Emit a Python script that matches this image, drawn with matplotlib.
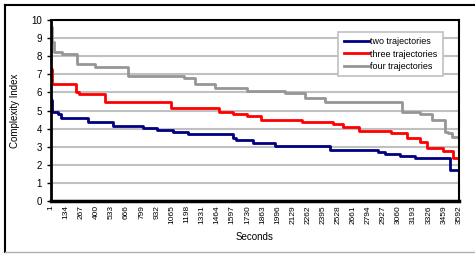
import numpy as np
import matplotlib.pyplot as plt
from matplotlib.lines import Line2D

plt.rcParams['font.family'] = ['Liberation Sans', 'DejaVu Sans']

# --- data (step changes: start second, index value) ---
t_two = [1, 10, 65, 89, 329, 549, 813, 931, 1078, 1210, 1600, 1629, 1776, 1973,
         2457, 2882, 2941, 3073, 3205, 3513, 3592]
v_two = [5.58, 4.93, 4.81, 4.57, 4.35, 4.17, 4.03, 3.92, 3.80, 3.70, 3.50, 3.37, 3.19, 3.02,
         2.82, 2.69, 2.60, 2.49, 2.36, 1.71, 1.71]

t_three = [1, 10, 218, 250, 476, 1057, 1482, 1600, 1724, 1847, 2208, 2486, 2574, 2715,
           2994, 3132, 3249, 3308, 3449, 3537, 3592]
v_three = [7.30, 6.46, 6.00, 5.91, 5.45, 5.12, 4.93, 4.81, 4.71, 4.48, 4.35, 4.25, 4.10, 3.88,
           3.77, 3.46, 3.28, 2.91, 2.78, 2.36, 2.36]

t_four = [1, 10, 25, 95, 233, 388, 681, 1172, 1269, 1445, 1724, 2061, 2237, 2413,
          3088, 3249, 3352, 3469, 3498, 3528, 3592]
v_four = [9.60, 8.80, 8.25, 8.10, 7.55, 7.42, 6.88, 6.80, 6.46, 6.26, 6.09, 5.98, 5.67, 5.47,
          4.93, 4.79, 4.48, 3.83, 3.74, 3.55, 3.55]

x_ticks = list(range(1, 3593, 133))
y_ticks = list(range(0, 11))

# --- plot ---
fig = plt.figure(figsize=(4.75, 2.54), dpi=100)
ax = fig.add_axes([51 / 475, 1 - 201 / 254, 408 / 475, 181 / 254])

ax.step(t_two, v_two, where='post', color='#000080', lw=2, label='two trajectories')
ax.step(t_three, v_three, where='post', color='#ff0000', lw=2, label='three trajectories')
ax.step(t_four, v_four, where='post', color='#969696', lw=2, label='four trajectories')

ax.set_xlim(1, 3592)
ax.set_ylim(0, 10)
ax.set_yticks(y_ticks)
ax.set_xticks(x_ticks)
ax.set_xticklabels([str(t) for t in x_ticks], rotation=90, fontsize=6)
ax.tick_params(axis='y', labelsize=7, length=3, width=1)
ax.tick_params(axis='x', length=0, pad=3)
ax.yaxis.grid(True, color='#c0c0c0', lw=1.5)
ax.set_axisbelow(True)
for s in ax.spines.values():
    s.set_color('black')
    s.set_linewidth(1.5)
ax.spines['bottom'].set_linewidth(2.5)
ax.spines['left'].set_linewidth(2)

ax.set_xlabel('Seconds', fontsize=7, labelpad=6)
ax.set_ylabel('Complexity Index', fontsize=7, labelpad=8)

leg = ax.legend(loc='upper right', bbox_to_anchor=(0.96, 0.934), borderaxespad=0,
                fontsize=6.5, frameon=True, fancybox=False, framealpha=1,
                edgecolor='#c0c0c0', handlelength=2.8, handletextpad=0.1,
                borderpad=0.6, labelspacing=0.35)
leg.get_frame().set_linewidth(1.2)

# outer chart frame
fig.add_artist(Line2D([5 / 475, 1], [1 - 5 / 254, 1 - 5 / 254], color='black', lw=1.5))
fig.add_artist(Line2D([5 / 475, 5 / 475], [1 - 5 / 254, 2 / 254], color='black', lw=1.5))
fig.add_artist(Line2D([5 / 475, 1], [2 / 254, 2 / 254], color='#b0b0b0', lw=1))

fig.savefig('out.png', dpi=100)
